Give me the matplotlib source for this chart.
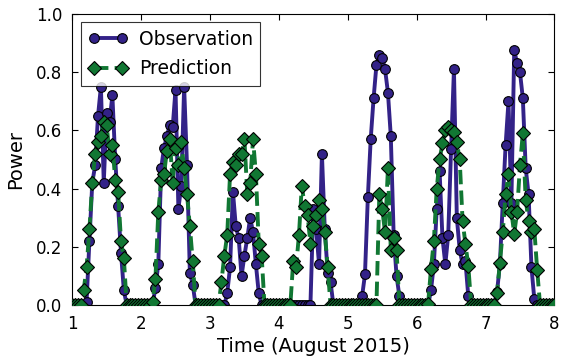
import numpy as np
import matplotlib
matplotlib.use("Agg")
import matplotlib.pyplot as plt

# hourly values, one list of 24 per day (1..7 August 2015)
obs_day1 = [0,0,0,0,0,0.01,0.22,0.42,0.48,0.65,0.75,0.42,0.66,0.63,0.72,0.50,0.34,0.18,0.05,0,0,0,0,0]
obs_day2 = [0,0,0,0,0,0.06,0.14,0.47,0.54,0.58,0.62,0.61,0.74,0.33,0.41,0.75,0.48,0.11,0.07,0,0,0,0,0]
obs_day3 = [0,0,0,0,0,0,0.04,0.13,0.39,0.27,0.23,0.10,0.17,0.23,0.30,0.25,0.14,0.04,0,0,0,0,0,0]
obs_day4 = [0,0,0,0,0,0,0,0,0,0,0,0,0.33,0.26,0.14,0.52,0.26,0.11,0.08,0,0,0,0,0]
obs_day5 = [0,0,0,0,0,0.03,0.105,0.37,0.57,0.71,0.825,0.86,0.85,0.81,0.73,0.58,0.24,0.10,0.03,0,0,0,0,0]
obs_day6 = [0,0,0,0,0,0.05,0.14,0.33,0.46,0.23,0.14,0.24,0.535,0.81,0.30,0.19,0.14,0.15,0.03,0,0,0,0,0]
obs_day7 = [0,0,0,0,0.044,0.14,0.35,0.55,0.70,0.35,0.876,0.83,0.80,0.71,0.47,0.38,0.13,0.02,0,0,0,0,0,0]

pred_day1 = [0,0,0,0,0.05,0.13,0.26,0.42,0.52,0.56,0.58,0.63,0.62,0.52,0.55,0.43,0.39,0.22,0.16,0,0,0,0,0]
pred_day2 = [0,0,0,0,0.01,0.09,0.32,0.43,0.45,0.53,0.57,0.42,0.54,0.48,0.56,0.47,0.38,0.27,0.15,0,0,0,0,0]
pred_day3 = [0,0,0,0,0.08,0.17,0.24,0.45,0.49,0.48,0.52,0.52,0.57,0.38,0.42,0.57,0.45,0.21,0.17,0,0,0,0,0]
pred_day4 = [0,0,0,0,0,0.15,0.13,0.24,0.41,0.34,0.31,0.21,0.27,0.31,0.36,0.33,0.25,0.13,0,0,0,0,0,0]
pred_day5 = [0,0,0,0,0,0,0,0,0,0,0,0.38,0.33,0.25,0.47,0.19,0.23,0.19,0,0,0,0,0,0]
pred_day6 = [0,0,0,0,0.005,0.125,0.22,0.40,0.50,0.555,0.60,0.61,0.60,0.595,0.56,0.50,0.29,0.21,0.135,0,0,0,0,0]
pred_day7 = [0,0,0,0,0.04,0.145,0.25,0.38,0.45,0.32,0.245,0.32,0.48,0.59,0.36,0.29,0.25,0.26,0.12,0,0,0,0,0]

end_value = [0]

xticks = [1, 2, 3, 4, 5, 6, 7, 8]
yticks = [0.0, 0.2, 0.4, 0.6, 0.8, 1.0]

observation = np.array(obs_day1 + obs_day2 + obs_day3 + obs_day4 + obs_day5 + obs_day6 + obs_day7 + end_value)
prediction = np.array(pred_day1 + pred_day2 + pred_day3 + pred_day4 + pred_day5 + pred_day6 + pred_day7 + end_value)
t = 1 + np.arange(len(observation)) / 24.0

plt.rcParams['font.family'] = ['DejaVu Sans']
plt.rcParams['xtick.direction'] = 'in'
plt.rcParams['ytick.direction'] = 'in'
plt.rcParams['xtick.top'] = True
plt.rcParams['ytick.right'] = True
plt.rcParams['xtick.major.size'] = 4
plt.rcParams['ytick.major.size'] = 4
plt.rcParams['xtick.major.pad'] = 7
plt.rcParams['ytick.major.pad'] = 7

fig = plt.figure(figsize=(5.64, 3.58), dpi=100)
ax = fig.add_axes([0.128, 0.148, 0.855, 0.813])

ax.plot(t, observation, '-o', color='#332288', lw=2.8, ms=7,
        mfc='#332288', mec='black', mew=0.8, label='Observation', zorder=2)
ax.plot(t, prediction, '--D', color='#117733', lw=2.8, ms=7,
        mfc='#117733', mec='black', mew=0.8, label='Prediction', zorder=3)

ax.set_xlim(1, 8)
ax.set_ylim(0, 1.0)
ax.set_xticks(xticks)
ax.set_yticks(yticks)
ax.set_xticklabels([str(v) for v in xticks], fontsize=12)
ax.set_yticklabels([f"{v:.1f}" for v in yticks], fontsize=12)
ax.set_xlabel('Time (August 2015)', fontsize=14, labelpad=3)
ax.set_ylabel('Power', fontsize=14, labelpad=8)

leg = ax.legend(loc='upper left', numpoints=2, fontsize=13.5, fancybox=False,
                handlelength=2.1, borderpad=0.4, labelspacing=0.55,
                handletextpad=0.6, borderaxespad=0.45)
leg.get_frame().set_edgecolor('black')
leg.get_frame().set_linewidth(0.8)

fig.savefig('out.png', dpi=100, facecolor='white')
